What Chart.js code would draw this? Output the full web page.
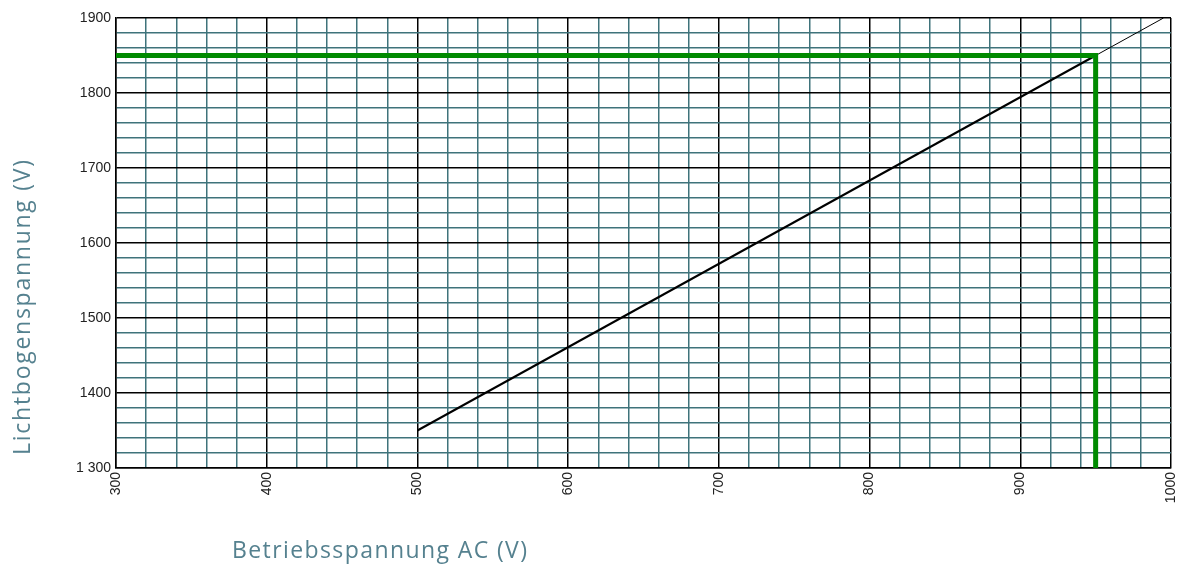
<!DOCTYPE html>
<html>
<head>
<meta charset="utf-8">
<script src="https://cdn.jsdelivr.net/npm/chart.js@4"></script>
<style>
    body { margin: 0; background: #fff; }
    #wrap { position: relative; width: 1178px; height: 565px; }
</style>
</head>
<body>
<div id="wrap"><canvas id="arc-chart"></canvas></div>
<script>
// Curve: operating voltage AC vs arc voltage
const curveAC = [500, 950];
const curveArc = [1350, 1850];
const extensionAC = [950, 995];
const extensionArc = [1850, 1900];

// Green marker at the operating point
const markerAC = [300, 950, 950];
const markerArc = [1850, 1850, 1300];

const xTickValues = [300, 400, 500, 600, 700, 800, 900, 1000];
const xTickLabels = ['300', '400', '500', '600', '700', '800', '900', '1000'];
const yTickValues = [1300, 1400, 1500, 1600, 1700, 1800, 1900];
const yTickLabels = ['1 300', '1400', '1500', '1600', '1700', '1800', '1900'];

const xTitle = 'Betriebsspannung AC (V)';
const yTitle = 'Lichtbogenspannung (V)';

function toPoints(xs, ys) {
    return xs.map((x, i) => ({ x: x, y: ys[i] }));
}

function gridColor(ctx) {
    return ctx.tick && ctx.tick.value % 100 === 0 ? '#000000' : '#3f737b';
}

const axisTitles = {
    id: 'axisTitles',
    afterDraw(chart) {
        const ctx = chart.ctx;
        ctx.save();
        ctx.fillStyle = '#55818f';
        ctx.font = '23px "Open Sans"';
        ctx.textBaseline = 'alphabetic';
        ctx.textAlign = 'left';
        // stretch letters a little so the titles have the original length
        let w = ctx.measureText(xTitle).width;
        ctx.letterSpacing = ((295 - w) / (xTitle.length - 1)) + 'px';
        ctx.fillText(xTitle, 232, 558);

        ctx.letterSpacing = '0px';
        w = ctx.measureText(yTitle).width;
        ctx.letterSpacing = ((295 - w) / (yTitle.length - 1)) + 'px';
        ctx.translate(30, 455);
        ctx.rotate(-Math.PI / 2);
        ctx.fillText(yTitle, 0, 0);
        ctx.restore();
    }
};

const chart = new Chart(document.getElementById('arc-chart').getContext('2d'), {
    type: 'line',
    data: {
        datasets: [{
            label: 'marker',
            data: toPoints(markerAC, markerArc),
            borderColor: '#008a00',
            borderWidth: 5,
            pointRadius: 0,
            order: 0
        }, {
            label: 'curve',
            data: toPoints(curveAC, curveArc),
            borderColor: '#000000',
            borderWidth: 2,
            pointRadius: 0,
            order: 1
        }, {
            label: 'extension',
            data: toPoints(extensionAC, extensionArc),
            borderColor: '#000000',
            borderWidth: 1,
            pointRadius: 0,
            order: 2
        }]
    },
    options: {
        responsive: true,
        maintainAspectRatio: false,
        animation: false,
        layout: { padding: { left: 0, top: 18, right: 7, bottom: 0 } },
        plugins: {
            legend: { display: false },
            tooltip: { enabled: false }
        },
        scales: {
            x: {
                type: 'linear',
                min: 300,
                max: 1000,
                afterFit: scale => {
                    scale.height = 97;
                    scale.paddingLeft = 0;
                    scale.paddingRight = 0;
                },
                ticks: {
                    stepSize: 20,
                    autoSkip: false,
                    minRotation: 90,
                    maxRotation: 90,
                    padding: 4,
                    color: '#222222',
                    font: { family: 'Liberation Sans', size: 14 },
                    callback: value => {
                        const i = xTickValues.indexOf(value);
                        return i >= 0 ? xTickLabels[i] : '';
                    }
                },
                grid: { color: gridColor, lineWidth: 1.5, drawTicks: false },
                border: { color: '#000000', width: 1.5 }
            },
            y: {
                type: 'linear',
                min: 1300,
                max: 1900,
                afterFit: scale => {
                    scale.width = 116;
                    scale.paddingTop = 0;
                    scale.paddingBottom = 0;
                },
                ticks: {
                    stepSize: 20,
                    autoSkip: false,
                    padding: 5,
                    color: '#222222',
                    font: { family: 'Liberation Sans', size: 14 },
                    callback: value => {
                        const i = yTickValues.indexOf(value);
                        return i >= 0 ? yTickLabels[i] : '';
                    }
                },
                grid: { color: gridColor, lineWidth: 1.5, drawTicks: false },
                border: { color: '#000000', width: 1.5 }
            }
        }
    },
    plugins: [axisTitles]
});
</script>
</body>
</html>
